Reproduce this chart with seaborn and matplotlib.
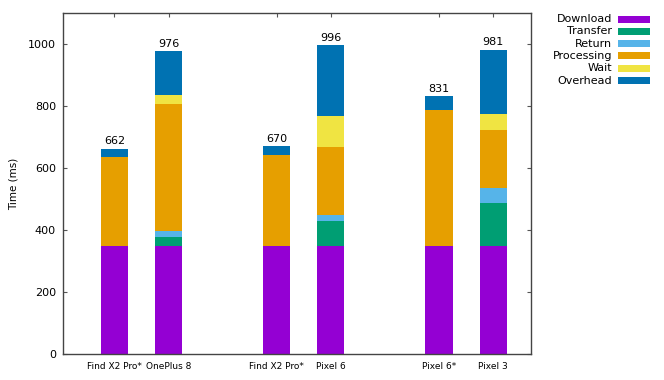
import matplotlib
matplotlib.use("Agg")
import matplotlib.pyplot as plt
import seaborn as sns
import pandas as pd
from matplotlib.patches import Rectangle

devices = ["Find X2 Pro*", "OnePlus 8", "Find X2 Pro*", "Pixel 6", "Pixel 6*", "Pixel 3"]
positions = [0, 1, 3, 4, 6, 7]
components = ["Download", "Transfer", "Return", "Processing", "Wait", "Overhead"]
colors = ["#9400d3", "#009e73", "#56b4e9", "#e69f00", "#f0e442", "#0072b2"]

download = [350, 350, 350, 350, 350, 350]
transfer = [0, 26, 0, 78, 0, 138]
ret = [0, 21, 0, 20, 0, 46]
processing = [285, 409, 292, 219, 437, 189]
wait = [0, 29, 0, 100, 0, 50]
overhead = [27, 141, 28, 229, 44, 208]
totals = [662, 976, 670, 996, 831, 981]

series = [download, transfer, ret, processing, wait, overhead]
rows = []
for comp, vals in zip(components, series):
    for pos, v in zip(positions, vals):
        rows.append({"pos": pos, "component": comp, "ms": v})
df = pd.DataFrame(rows)

sns.set_theme(style="ticks")
plt.rcParams["font.family"] = ["DejaVu Sans"]
plt.rcParams["text.color"] = "black"
plt.rcParams["axes.labelcolor"] = "black"
plt.rcParams["xtick.color"] = "black"
plt.rcParams["ytick.color"] = "black"

fig = plt.figure(figsize=(6.64, 3.8), dpi=100)
ax = fig.add_axes([63 / 664, 1 - 354 / 380, (531 - 63) / 664, (354 - 13) / 380])

# seaborn stacks the first hue level on top, so reverse the order
sns.histplot(
    data=df, x="pos", weights="ms", hue="component",
    hue_order=components[::-1], palette=colors[::-1],
    multiple="stack", discrete=True, shrink=0.5,
    element="bars", linewidth=0, alpha=1, legend=False, ax=ax,
)

for pos, tot in zip(positions, totals):
    ax.text(pos, tot + 8, str(tot), ha="center", va="bottom", fontsize=8, color="black")

ax.set_xlim(-0.95, 7.7)
ax.set_ylim(0, 1100)
ax.set_xticks(positions)
ax.set_xticklabels(devices, fontsize=6.5)
ax.set_yticks(range(0, 1001, 200))
ax.tick_params(axis="y", labelsize=8, direction="in", right=True, length=3,
               width=0.8, color="#555555", pad=5)
ax.tick_params(axis="x", direction="in", top=True, bottom=False, length=3,
               width=0.8, color="#555555", pad=6)
ax.set_xlabel("")
ax.set_ylabel("Time (ms)", fontsize=7.5, labelpad=7)
for s in ax.spines.values():
    s.set_visible(True)
    s.set_color("#444444")
    s.set_linewidth(1)

# gnuplot style key: right-aligned labels followed by color boxes
for i, (comp, col) in enumerate(zip(components, colors)):
    y = 1 - (19 + i * 12.3) / 380
    fig.text(612 / 664, y, comp, ha="right", va="center", fontsize=8)
    fig.patches.append(Rectangle((618 / 664, y - 3.5 / 380), 32 / 664, 7 / 380,
                                 transform=fig.transFigure, facecolor=col,
                                 edgecolor="none", figure=fig))

fig.savefig("out.png", dpi=100)
